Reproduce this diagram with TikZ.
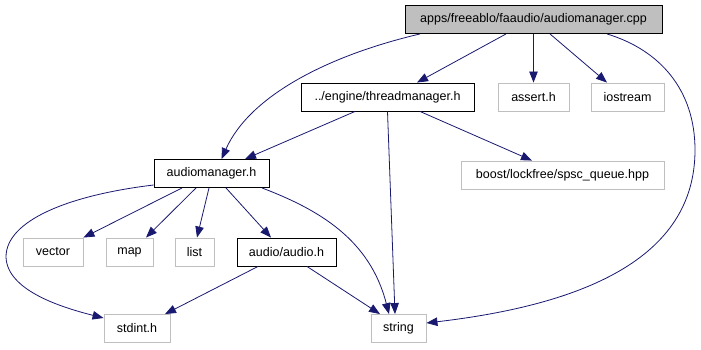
\documentclass[tikz,border=0pt]{standalone}
\usepackage{fontspec}
\setmainfont{Liberation Sans}
\usepackage{tikz}
\usetikzlibrary{arrows.meta}

\definecolor{edgeblue}{RGB}{25,25,112}
\definecolor{boxgray}{RGB}{191,191,191}

\begin{document}
\begin{tikzpicture}[x=1pt, y=-1pt,
  font=\fontsize{12.5}{15}\selectfont,
  >={Triangle[length=11pt,width=8.5pt]},
  hdr/.style={draw=black, line width=0.9pt, minimum height=28pt, inner sep=0pt},
  sys/.style={draw=boxgray, line width=0.9pt, minimum height=28pt, inner sep=0pt},
  dep/.style={->, draw=edgeblue, fill=none, line width=0.8pt}]
\useasboundingbox (0,0) rectangle (701,349);

% 파일 노드
\node[hdr, fill=boxgray, minimum width=257pt] (cpp) at (533.5,19.5) {apps/freeablo/faaudio/audiomanager.cpp};
\node[hdr, minimum width=173pt] (tm) at (387.5,97) {../engine/threadmanager.h};
\node[sys, minimum width=71pt] (assert) at (533.5,97) {assert.h};
\node[sys, minimum width=73pt] (iostream) at (627.5,97) {iostream};
\node[hdr, minimum width=115pt] (am) at (211.5,173.5) {audiomanager.h};
\node[sys, minimum width=203pt] (boost) at (562.5,175) {boost/lockfree/spsc\_queue.hpp};
\node[sys, minimum width=60pt] (vector) at (53,252) {vector};
\node[sys, minimum width=47pt] (map) at (129.5,252) {map};
\node[sys, minimum width=39pt] (list) at (194.5,252) {list};
\node[hdr, minimum width=99pt] (audio) at (286.5,252) {audio/audio.h};
\node[sys, minimum width=66pt] (stdint) at (137,328.5) {stdint.h};
\node[sys, minimum width=55pt] (string) at (398.5,328.5) {string};

% audiomanager.cpp
\draw[dep] ([xshift=-113.5pt]cpp.south) .. controls (330,55) and (250,95) .. ([xshift=10pt]am.north);
\draw[dep] ([xshift=-27.5pt]cpp.south) -- ([xshift=29.5pt]tm.north);
\draw[dep] (cpp.south) -- (assert.north);
\draw[dep] ([xshift=16.5pt]cpp.south) -- ([xshift=-20.5pt]iostream.north);
\draw[dep] ([xshift=73.5pt]cpp.south) .. controls (660,50) and (695,90) .. (695,150)
  .. controls (695,260) and (580,305) .. ([yshift=5.5pt]string.east);

% threadmanager.h
\draw[dep] ([xshift=-32.5pt]tm.south) -- ([xshift=33.5pt]am.north);
\draw[dep] (tm.south) -- ([xshift=-3.5pt]string.north);
\draw[dep] ([xshift=32.5pt]tm.south) -- ([xshift=-30.5pt]boost.north);

% audiomanager.h
\draw[dep] ([yshift=-11.5pt]am.west) .. controls (70,195) and (6,220) .. (6,257)
  .. controls (7,290) and (60,307) .. ([yshift=10.5pt]stdint.west);
\draw[dep] ([xshift=-29.5pt]am.south) -- (vector.north east);
\draw[dep] ([xshift=-15.5pt]am.south) -- ([xshift=16.5pt]map.north);
\draw[dep] ([xshift=-2.5pt]am.south) -- ([xshift=2.5pt]list.north);
\draw[dep] ([xshift=14.5pt]am.south) -- ([xshift=-15.5pt]audio.north);
\draw[dep] ([xshift=50.5pt]am.south) .. controls (320,210) and (370,240) .. ([xshift=-9.5pt]string.north);

% audio/audio.h
\draw[dep] ([xshift=-28.5pt]audio.south) -- ([xshift=28pt]stdint.north);
\draw[dep] ([xshift=20.5pt]audio.south) -- ([xshift=-18.5pt]string.north);
\end{tikzpicture}
\end{document}
